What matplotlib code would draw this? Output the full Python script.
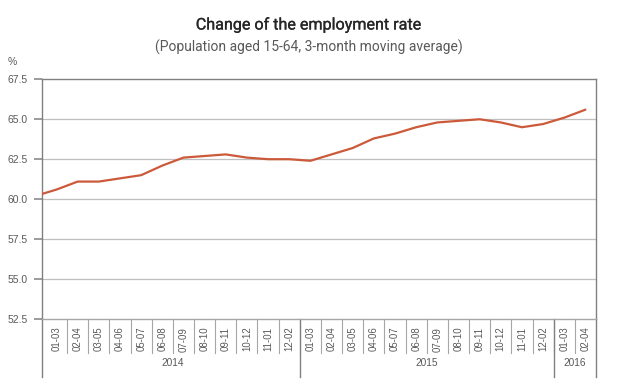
import matplotlib
matplotlib.use("Agg")
import matplotlib.pyplot as plt
import matplotlib.patheffects as pe
import numpy as np

# ---- data ----
periods = ["01-03", "02-04", "03-05", "04-06", "05-07", "06-08", "07-09", "08-10",
           "09-11", "10-12", "11-01", "12-02",
           "01-03", "02-04", "03-05", "04-06", "05-07", "06-08", "07-09", "08-10",
           "09-11", "10-12", "11-01", "12-02",
           "01-03", "02-04"]
years = ["2014", "2015", "2016"]
year_counts = [12, 12, 2]
employment_rate = [60.6, 61.1, 61.1, 61.3, 61.5, 62.1, 62.6, 62.7, 62.8, 62.6, 62.5, 62.5,
                   62.4, 62.8, 63.2, 63.8, 64.1, 64.5, 64.8, 64.9, 65.0, 64.8, 64.5, 64.7,
                   65.1, 65.6]
lead_in_value = 60.2  # previous period (12-02 2013), only partially visible
y_ticks = [52.5, 55.0, 57.5, 60.0, 62.5, 65.0, 67.5]

title = "Change of the employment rate"
subtitle = "(Population aged 15-64, 3-month moving average)"

# ---- figure ----
W, H = 617, 381
fig = plt.figure(figsize=(W / 100, H / 100), dpi=100)
ax_l, ax_r, ax_t, ax_b = 41.7, 596, 79.3, 319
ax = fig.add_axes([ax_l / W, 1 - ax_b / H, (ax_r - ax_l) / W, (ax_b - ax_t) / H])

line_color = "#CC5A3A"
spine_color = "#808080"
grid_color = "#BFBFBF"
text_color = "#595959"
label_fam = ["Liberation Sans", "DejaVu Sans"]

n = len(periods)
x = np.arange(-1, n)
y = [lead_in_value] + employment_rate
ax.plot(x, y, color=line_color, lw=1.6, solid_capstyle="round", zorder=3)

ax.set_xlim(-0.7, n - 0.5)
ax.set_ylim(y_ticks[0], y_ticks[-1])
ax.set_yticks(y_ticks)
ax.set_yticklabels([f"{v:.1f}" for v in y_ticks])
ax.tick_params(axis="y", direction="out", length=6, width=1.1, color=spine_color,
               labelsize=7.5, labelcolor=text_color, pad=4)
for lab in ax.get_yticklabels():
    lab.set_family(label_fam)

for v in y_ticks[1:-1]:
    ax.axhline(v, color=grid_color, lw=0.9, zorder=1)

ax.set_xticks(np.arange(n))
ax.set_xticklabels(periods, rotation=90, fontsize=6.9, color=text_color,
                   family=label_fam)
ax.tick_params(axis="x", length=0, pad=5.5)

for s in ["left", "top", "right"]:
    ax.spines[s].set_color(spine_color)
    ax.spines[s].set_linewidth(1.0)
ax.spines["bottom"].set_color("#A6A6A6")
ax.spines["bottom"].set_linewidth(1.0)

trans = ax.get_xaxis_transform()
axh = ax_b - ax_t
sep_depth = -33.7 / axh
grp_depth = -58.0 / axh

# category separators
for b in np.arange(0.5, n - 0.5, 1.0):
    ax.plot([b, b], [0, sep_depth], transform=trans, color="#A6A6A6", lw=0.8,
            clip_on=False)

# group boundaries and year labels
start = 0
bounds = [-0.7]
for yr, cnt in zip(years, year_counts):
    end = start + cnt
    bounds.append(end - 0.5)
    lo = max(start - 0.5, -0.7)
    ax.text((lo + end - 0.5) / 2, -(362.7 - ax_b) / axh, yr, transform=trans,
            ha="center", va="center", fontsize=7.3, color=text_color,
            family=label_fam)
    start = end
for b in bounds:
    ax.plot([b, b], [0, grp_depth], transform=trans, color=spine_color, lw=1.0,
            clip_on=False)

fig.text(0.5, 1 - 24.5 / H, title, ha="center", va="center", fontsize=11.6,
         fontweight="normal", color="#262626", family=["Roboto", "DejaVu Sans"],
         path_effects=[pe.withStroke(linewidth=0.2, foreground="#262626")])
fig.text(0.5, 1 - 47 / H, subtitle, ha="center", va="center", fontsize=10,
         color=text_color, family=["Roboto", "DejaVu Sans"])
fig.text(8 / W, 1 - 62 / H, "%", ha="left", va="center", fontsize=7.5,
         color=text_color, family=label_fam)

fig.savefig("out.png", dpi=100)
